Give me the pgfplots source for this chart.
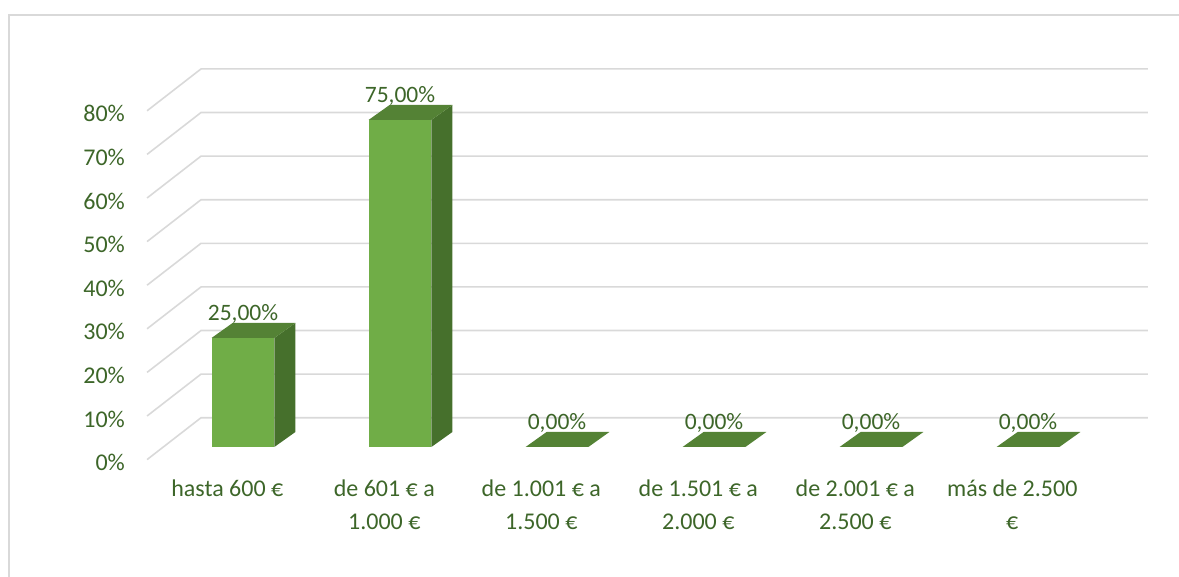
\documentclass[border=0pt]{standalone}
\usepackage{pgfplots}
\pgfplotsset{compat=1.18}
\usepackage{fontspec}
\setmainfont{Carlito}
\definecolor{txt}{HTML}{3D6629}
\definecolor{gridc}{HTML}{D9D9D9}
\definecolor{bfront}{HTML}{70AD47}
\definecolor{btop}{HTML}{548235}
\definecolor{bside}{HTML}{46702C}
\begin{document}
\begin{tikzpicture}
\path[use as bounding box] (0,0) rectangle (1179bp,577bp);
\draw[gridc, line width=2bp] (8.5bp,-2bp) -- (8.5bp,561.5bp) -- (1181bp,561.5bp);
\begin{axis}[
  at={(147.07bp,117.4bp)}, anchor=south west,
  scale only axis, width=1000.875bp, height=390.66bp,
  xmin=-0.611, xmax=5.764, ymin=-2.9, ymax=86.7,
  clip=false,
  axis line style={draw=none}, tick style={draw=none},
  major tick length=0pt,
  ytick={-2.9,7.1,17.1,27.1,37.1,47.1,57.1,67.1,77.1},
  yticklabels={0\%,10\%,20\%,30\%,40\%,50\%,60\%,70\%,80\%},
  yticklabel style={anchor=east, inner sep=0pt, xshift=-22bp, yshift=-3bp,
    font=\fontsize{24bp}{29bp}\selectfont, text=txt},
  xtick={-0.1,0.9,1.9,2.9,3.9,4.9},
  xticklabels={{hasta 600 €},{de 601 € a\\1.000 €},{de 1.001 € a\\1.500 €},{de 1.501 € a\\2.000 €},{de 2.001 € a\\2.500 €},{más de 2.500\\€}},
  xticklabel style={anchor=north, align=center, inner sep=0pt, yshift=-20bp,
    font=\fontsize{24bp}{33bp}\selectfont, text=txt},
]
% gridlines (back wall + side wall)
\addplot[gridc, line width=1.6bp, mark=none] coordinates {(-0.611,-2.9) (-0.2675,6.7) (5.764,6.7)};
\addplot[gridc, line width=1.6bp, mark=none] coordinates {(-0.611,7.1) (-0.2675,16.7) (5.764,16.7)};
\addplot[gridc, line width=1.6bp, mark=none] coordinates {(-0.611,17.1) (-0.2675,26.7) (5.764,26.7)};
\addplot[gridc, line width=1.6bp, mark=none] coordinates {(-0.611,27.1) (-0.2675,36.7) (5.764,36.7)};
\addplot[gridc, line width=1.6bp, mark=none] coordinates {(-0.611,37.1) (-0.2675,46.7) (5.764,46.7)};
\addplot[gridc, line width=1.6bp, mark=none] coordinates {(-0.611,47.1) (-0.2675,56.7) (5.764,56.7)};
\addplot[gridc, line width=1.6bp, mark=none] coordinates {(-0.611,57.1) (-0.2675,66.7) (5.764,66.7)};
\addplot[gridc, line width=1.6bp, mark=none] coordinates {(-0.611,67.1) (-0.2675,76.7) (5.764,76.7)};
\addplot[gridc, line width=1.6bp, mark=none] coordinates {(-0.611,77.1) (-0.2675,86.7) (5.764,86.7)};
% bar 1: hasta 600 EUR = 25
\addplot[fill=bside, draw=none, mark=none] coordinates {(0.2,0) (0.334,3.44) (0.334,28.44) (0.2,25)} --cycle;
\addplot[fill=btop, draw=none, mark=none] coordinates {(-0.2,25) (0.2,25) (0.334,28.44) (-0.066,28.44)} --cycle;
\addplot[fill=bfront, draw=none, mark=none] coordinates {(-0.2,0) (0.2,0) (0.2,25) (-0.2,25)} --cycle;
% bar 2: de 601 a 1.000 = 75
\addplot[fill=bside, draw=none, mark=none] coordinates {(1.2,0) (1.334,3.44) (1.334,78.44) (1.2,75)} --cycle;
\addplot[fill=btop, draw=none, mark=none] coordinates {(0.8,75) (1.2,75) (1.334,78.44) (0.934,78.44)} --cycle;
\addplot[fill=bfront, draw=none, mark=none] coordinates {(0.8,0) (1.2,0) (1.2,75) (0.8,75)} --cycle;
% bars 3-6: 0
\addplot[fill=btop, draw=none, mark=none] coordinates {(1.8,0) (2.2,0) (2.334,3.44) (1.934,3.44)} --cycle;
\addplot[fill=btop, draw=none, mark=none] coordinates {(2.8,0) (3.2,0) (3.334,3.44) (2.934,3.44)} --cycle;
\addplot[fill=btop, draw=none, mark=none] coordinates {(3.8,0) (4.2,0) (4.334,3.44) (3.934,3.44)} --cycle;
\addplot[fill=btop, draw=none, mark=none] coordinates {(4.8,0) (5.2,0) (5.334,3.44) (4.934,3.44)} --cycle;
% data labels
\begin{scope}[every node/.style={anchor=base, inner sep=0pt, text=txt, font=\fontsize{23.5bp}{28bp}\selectfont}]
\node at (axis cs:0,29) {25,00\%};
\node at (axis cs:1,79) {75,00\%};
\node at (axis cs:2,4) {0,00\%};
\node at (axis cs:3,4) {0,00\%};
\node at (axis cs:4,4) {0,00\%};
\node at (axis cs:5,4) {0,00\%};
\end{scope}
\end{axis}
\end{tikzpicture}
\end{document}
